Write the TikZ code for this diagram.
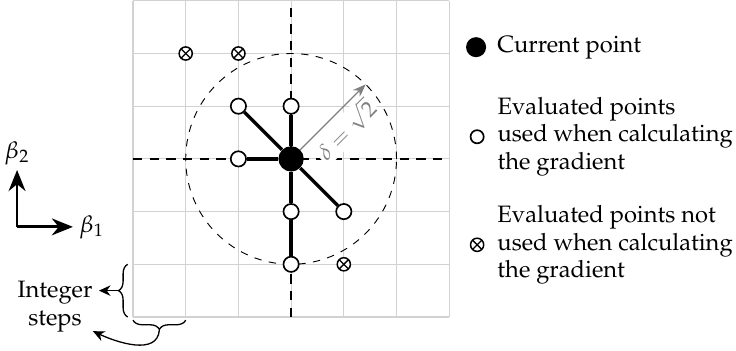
\documentclass[tikz,border=0pt]{standalone}
\usepackage[T1]{fontenc}
\usepackage{mathpazo}
\usepackage{tikz}
\usetikzlibrary{
  arrows.meta, positioning, calc, decorations.pathreplacing
}
\tikzstyle{gridline} = [gray!35, line width=0.6pt]
\tikzstyle{axisline} = [dashed, line width=1pt, dash pattern=on 5pt off 4pt]
\tikzstyle{curpt} = [circle, fill=black, inner sep=0pt, minimum size=0.48cm]
\tikzstyle{usedpt} = [circle, draw, fill=white, line width=0.9pt, inner sep=0pt, minimum size=0.29cm]
\tikzstyle{unusedpt} = [
  circle, draw, fill=white, line width=0.8pt, inner sep=0pt, minimum size=0.25cm,
  path picture={
    \draw[line width=0.7pt] (path picture bounding box.south west) -- (path picture bounding box.north east);
    \draw[line width=0.7pt] (path picture bounding box.north west) -- (path picture bounding box.south east);
  }
]
\tikzstyle{link} = [line width=1.8pt]
\tikzstyle{arrow} = [-{Stealth[length=4mm, width=3.2mm]}, line width=1.5pt]
\tikzstyle{smallarrow} = [-{Stealth[length=2.2mm, width=2mm]}, line width=0.7pt]
\tikzstyle{bracedeco} = [decorate, decoration={brace, amplitude=5pt}, line width=0.7pt]
\tikzstyle{legendtext} = [anchor=west, align=left, inner sep=0pt]

\begin{document}
\begin{tikzpicture}[font=\fontsize{12.8}{15.1}\selectfont]

  \useasboundingbox (-2.524,-0.645) rectangle (11.442,6.015);

  \draw[gridline] (0,0) grid (6,6);
  \draw[axisline] (3,0) -- (3,6);
  \draw[axisline] (0,3) -- (6,3);
  \draw[dashed, line width=0.5pt, dash pattern=on 4pt off 4pt] (3,3) circle (2);

  \node[curpt] (cur) at (3,3) {};
  \coordinate (rim) at ($(cur)+(45:2)$);
  \draw[-{Stealth[length=2.5mm]}, gray, line width=0.7pt] (cur) -- node[midway, below=2pt, sloped, fill=white, inner sep=1pt, font=\fontsize{12}{13}\selectfont] {$\delta = \sqrt{2}$} (rim);

  \node[usedpt] (p24) at (2,4) {};
  \node[usedpt] (p34) at (3,4) {};
  \node[usedpt] (p23) at (2,3) {};
  \node[usedpt] (p32) at (3,2) {};
  \node[usedpt] (p42) at (4,2) {};
  \node[usedpt] (p31) at (3,1) {};

  \draw[link] (cur) -- (p24);
  \draw[link] (cur) -- (p34);
  \draw[link] (cur) -- (p23);
  \draw[link] (cur) -- (p32);
  \draw[link] (p32) -- (p31);
  \draw[link] (cur) -- (p42);

  \node[unusedpt] (q15) at (1,5) {};
  \node[unusedpt] (q25) at (2,5) {};
  \node[unusedpt] (q41) at (4,1) {};

  \node[curpt, minimum size=0.38cm] (lgcur) at (6.51,5.12) {};
  \node[legendtext, right=0.2cm of lgcur] (lgcurtxt) {Current point};
  \node[usedpt, minimum size=0.25cm] (lgused) at (6.53,3.42) {};
  \node[legendtext, right=0.24cm of lgused] (lgusedtxt) {Evaluated points\\used when calculating\\the gradient};
  \node[unusedpt, minimum size=0.25cm] (lgunused) at (6.53,1.37) {};
  \node[legendtext, right=0.24cm of lgunused] (lgunusedtxt) {Evaluated points not\\used when calculating\\the gradient};

  \coordinate (origin) at (-2.2,1.71);
  \coordinate (ytip) at (-2.2,2.79);
  \coordinate (xtip) at (-1.14,1.71);
  \node[above=-1pt of ytip] (b2lbl) {$\beta_2$};
  \node[right=0pt of xtip] (b1lbl) {$\beta_1$};
  \draw[arrow] (origin) -- (ytip);
  \draw[arrow] (origin) -- (xtip);

  \node[align=center] (steps) at (-1.48,0.19) {Integer\\steps};
  \draw[bracedeco] (-0.1,0) -- (-0.1,1);
  \draw[bracedeco] (1,-0.06) -- (0,-0.06);
  \coordinate (vtip) at (-0.28,0.5);
  \coordinate (htip) at (0.5,-0.25);
  \draw[smallarrow] (vtip) -- (vtip -| steps.east);
  \draw[smallarrow] (htip) to[out=-95, in=-25] (-0.76,-0.27);

\end{tikzpicture}
\end{document}
